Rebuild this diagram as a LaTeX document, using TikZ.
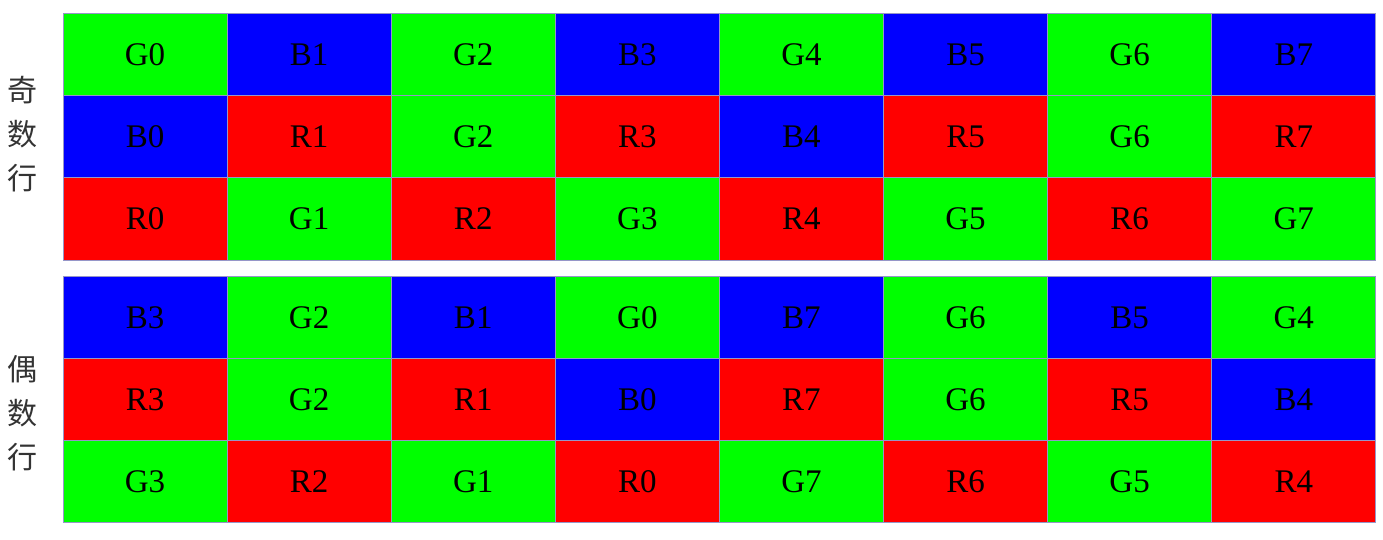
\documentclass[tikz,border=0pt]{standalone}
\usepackage{fontspec}
\setmainfont{Liberation Serif}
\newfontfamily\cjk{Noto Sans CJK SC}
\definecolor{pixG}{RGB}{0,255,0}
\definecolor{pixB}{RGB}{0,0,255}
\definecolor{pixR}{RGB}{255,0,0}
\definecolor{gridline}{RGB}{150,150,200}
\tikzset{
  cell/.style={draw=gridline, line width=0.5pt, minimum width=82.05pt, minimum height=41.1pt,
    inner sep=0pt, font=\fontsize{16.5}{16.5}\selectfont},
  rowlabel/.style={align=center, inner sep=0pt, font=\cjk\fontsize{15}{22}\selectfont, text=black!80}
}
\begin{document}
\begin{tikzpicture}[x=0.5pt,y=-0.5pt]
  \useasboundingbox[fill=white] (0,0) rectangle (1383,540);
  % odd rows
  \foreach \row [count=\r from 0] in {{G/0,B/1,G/2,B/3,G/4,B/5,G/6,B/7},
                                      {B/0,R/1,G/2,R/3,B/4,R/5,G/6,R/7},
                                      {R/0,G/1,R/2,G/3,R/4,G/5,R/6,G/7}}
    \foreach \c/\n [count=\i from 0] in \row
      \node[cell, fill=pix\c] (odd-\r-\i) at ({63+164.1*(\i+0.5)},{13.5+82.2*(\r+0.5)}) {\c\n};
  % even rows
  \foreach \row [count=\r from 0] in {{B/3,G/2,B/1,G/0,B/7,G/6,B/5,G/4},
                                      {R/3,G/2,R/1,B/0,R/7,G/6,R/5,B/4},
                                      {G/3,R/2,G/1,R/0,G/7,R/6,G/5,R/4}}
    \foreach \c/\n [count=\i from 0] in \row
      \node[cell, fill=pix\c] (even-\r-\i) at ({63+164.1*(\i+0.5)},{276.7+82*(\r+0.5)}) {\c\n};
  \node[rowlabel] (oddlabel) at (22,134) {奇\\数\\行};
  \node[rowlabel] (evenlabel) at (22,413) {偶\\数\\行};
\end{tikzpicture}
\end{document}
